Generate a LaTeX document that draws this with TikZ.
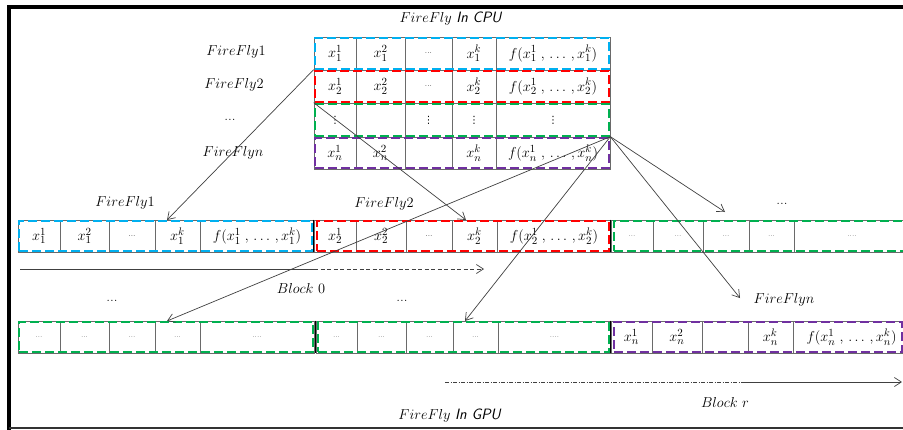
\documentclass[tikz,border=0pt]{standalone}
\usepackage{fontspec}
\newfontfamily\djv{DejaVu Sans}
\usetikzlibrary{arrows.meta}
\definecolor{ffblue}{HTML}{00B0F0}
\definecolor{ffred}{HTML}{FF0000}
\definecolor{ffgreen}{HTML}{00B050}
\definecolor{ffpurple}{HTML}{7030A0}
\definecolor{gridgray}{HTML}{6A6A6A}
\definecolor{linegray}{HTML}{404040}
\newcommand{\dts}{{\fontsize{8}{9}\selectfont ...}}
\newcommand{\sdts}{{\fontsize{7}{8}\selectfont\color{linegray}...}}
\newcommand{\ldts}{{\fontsize{7}{8}\selectfont\color{linegray}....}}
\newcommand{\vd}{{\djv\fontsize{10}{11}\selectfont ⋮}}
\newcommand{\cellrow}[4]{%
  \foreach \xl/\xr/\txt [count=\i] in {#4} {
    \node[cell, minimum width={\xr-\xl}, minimum height={#3-#2}] (#1-\i) at ({(\xl+\xr)/2},{(#2+#3)/2}) {\txt};
  }}
\newcommand{\dboxat}[6]{%
  \node[dbox=#2, minimum width={#5-#3}, minimum height={#6-#4}] (#1) at ({(#3+#5)/2},{(#4+#6)/2}) {};}
\tikzset{
  cell/.style={draw=gridgray, line width=0.7pt, inner sep=0pt, font=\fontsize{15}{17}\selectfont},
  dbox/.style={draw=#1, line width=2.4pt, dash pattern=on 9pt off 4pt, inner sep=0pt},
  lbl/.style={font=\fontsize{15}{17}\selectfont, inner sep=1pt},
  conn/.style={draw=linegray, line width=0.7pt, -{Straight Barb[length=7pt,width=9pt]}},
  plainline/.style={draw=linegray, line width=0.7pt},
  sepline/.style={draw=black, line width=1.3pt},
}
\begin{document}
\begin{tikzpicture}[x=1pt,y=-1pt]
\useasboundingbox (0,0) rectangle (903,429);
% frame
\draw[line width=3.2pt] (7,7) -- (908,7);
\draw[line width=3.2pt] (9,5.4) -- (9,430);
\draw[line width=1.2pt, draw=black!80] (9,428) -- (908,428);

% CPU table
\cellrow{c1}{37}{70}{314/356/{$x_1^1$},356/405/{$x_1^2$},405/452/\dts,452/496/{$x_1^k$},496/610/{$f(x_1^1\;,\,\dots\,,x_1^k)$}}
\cellrow{c2}{70}{103}{314/356/{$x_2^1$},356/405/{$x_2^2$},405/452/\dts,452/496/{$x_2^k$},496/610/{$f(x_2^1\;,\,\dots\,,x_2^k)$}}
\cellrow{c3}{103}{137}{314/356/\vd,356/405/{},405/452/\vd,452/496/\vd,496/610/\vd}
\cellrow{c4}{137}{169}{314/356/{$x_n^1$},356/405/{$x_n^2$},405/452/{},452/496/{$x_n^k$},496/610/{$f(x_n^1\;,\,\dots\,,x_n^k)$}}

% GPU row 1
\cellrow{ga}{220}{252}{18/60/{$x_1^1$},60/109/{$x_1^2$},109/155/\dts,155/200/{$x_1^k$},200/314/{$f(x_1^1\;,\,\dots\,,x_1^k)$}}
\cellrow{gb}{220}{252}{314/356/{$x_2^1$},356/406/{$x_2^2$},406/452/\dts,452/497/{$x_2^k$},497/611/{$f(x_2^1\;,\,\dots\,,x_2^k)$}}
\cellrow{gc}{220}{252}{611/653/\sdts,653/703/\sdts,703/749/\sdts,749/794/\sdts,794/910/\ldts}
% GPU row 2
\cellrow{ha}{321}{353}{18/60/\sdts,60/109/\sdts,109/155/\sdts,155/200/\sdts,200/314/\ldts}
\cellrow{hb}{321}{353}{316/357/\sdts,357/406/\sdts,406/453/\sdts,453/498/\sdts,498/611/\ldts}
\cellrow{hc}{321}{353}{611/652/{$x_n^1$},652/702/{$x_n^2$},702/748/{},748/793/{$x_n^k$},793/910/{$f(x_n^1\;,\,\dots\,,x_n^k)$}}

% block separators
\draw[sepline] (gb-1.north west) -- (gb-1.south west);
\draw[sepline] (gc-1.north west) -- (gc-1.south west);
\draw[sepline] (hb-1.north west) -- (hb-1.south west);
\draw[sepline] (hc-1.north west) -- (hc-1.south west);

% dashed coloured boxes
\dboxat{cpu1}{ffblue}{315}{38}{609}{69}
\dboxat{cpu2}{ffred}{315}{71}{609}{102}
\dboxat{cpu3}{ffgreen}{315}{104}{609}{136}
\dboxat{cpu4}{ffpurple}{315}{138}{609}{168}
\dboxat{bx1}{ffblue}{19}{221}{312}{251}
\dboxat{bx2}{ffred}{317}{221}{609}{251}
\dboxat{bx3}{ffgreen}{614}{221}{912}{251}
\dboxat{bx4}{ffgreen}{19}{322}{313}{352}
\dboxat{bx5}{ffgreen}{318}{322}{609}{352}
\dboxat{bx6}{ffpurple}{614}{322}{902}{352}

% labels
\node[lbl] (lcpu) at (451,19) {$FireFly$ \textsf{\textit{In CPU}}};
\node[lbl] (lf1) at (236,52) {$FireFly1$};
\node[lbl] (lf2) at (234,85) {$FireFly2$};
\node[lbl] (ldt) at (230,120) {...};
\node[lbl] (lfn) at (233,153) {$FireFlyn$};
\node[lbl] (gl1) at (125,203) {$FireFly1$};
\node[lbl] (gl2) at (384,204) {$FireFly2$};
\node[lbl] (gl3) at (782,204) {...};
\node[lbl] (gl4) at (112,301) {...};
\node[lbl] (gl5) at (402,301) {...};
\node[lbl] (gln) at (784,300) {$FireFlyn$};
\node[lbl] (lb0) at (301,288) {$Block\ 0$};
\node[lbl] (lbr) at (725,402) {$Block\ r$};
\node[lbl] (lgpu) at (450,416) {$FireFly$ \textsf{\textit{In GPU}}};

% connector targets
\coordinate (t1) at (167,220);
\coordinate (t2) at (466,220);
\coordinate (t3) at (725,212);
\coordinate (t4) at (740,298);
\coordinate (t5) at (167,321);
\coordinate (t6) at (465,321);
\draw[conn] (c2-1.north west) -- (t1);
\draw[conn] (c3-1.north west) -- (t2);
\draw[conn] (c4-5.north east) -- (t3);
\draw[conn] (c4-5.north east) -- (t4);
\draw[conn] (c4-5.north east) -- (t5);
\draw[conn] (c4-5.north east) -- (t6);

% block arrows
\coordinate (b0a) at (20,269);
\coordinate (b0b) at (314,269);
\coordinate (b0c) at (484,269);
\draw[plainline] (b0a) -- (b0b);
\draw[conn, dash pattern=on 4pt off 2.5pt] (b0b) -- (b0c);
\coordinate (bra) at (445,382);
\coordinate (brb) at (745,382);
\coordinate (brc) at (902,382);
\draw[plainline, dash pattern=on 4pt off 1.5pt on 1pt off 1.5pt] (bra) -- (brb);
\draw[conn] (brb) -- (brc);
\end{tikzpicture}
\end{document}
